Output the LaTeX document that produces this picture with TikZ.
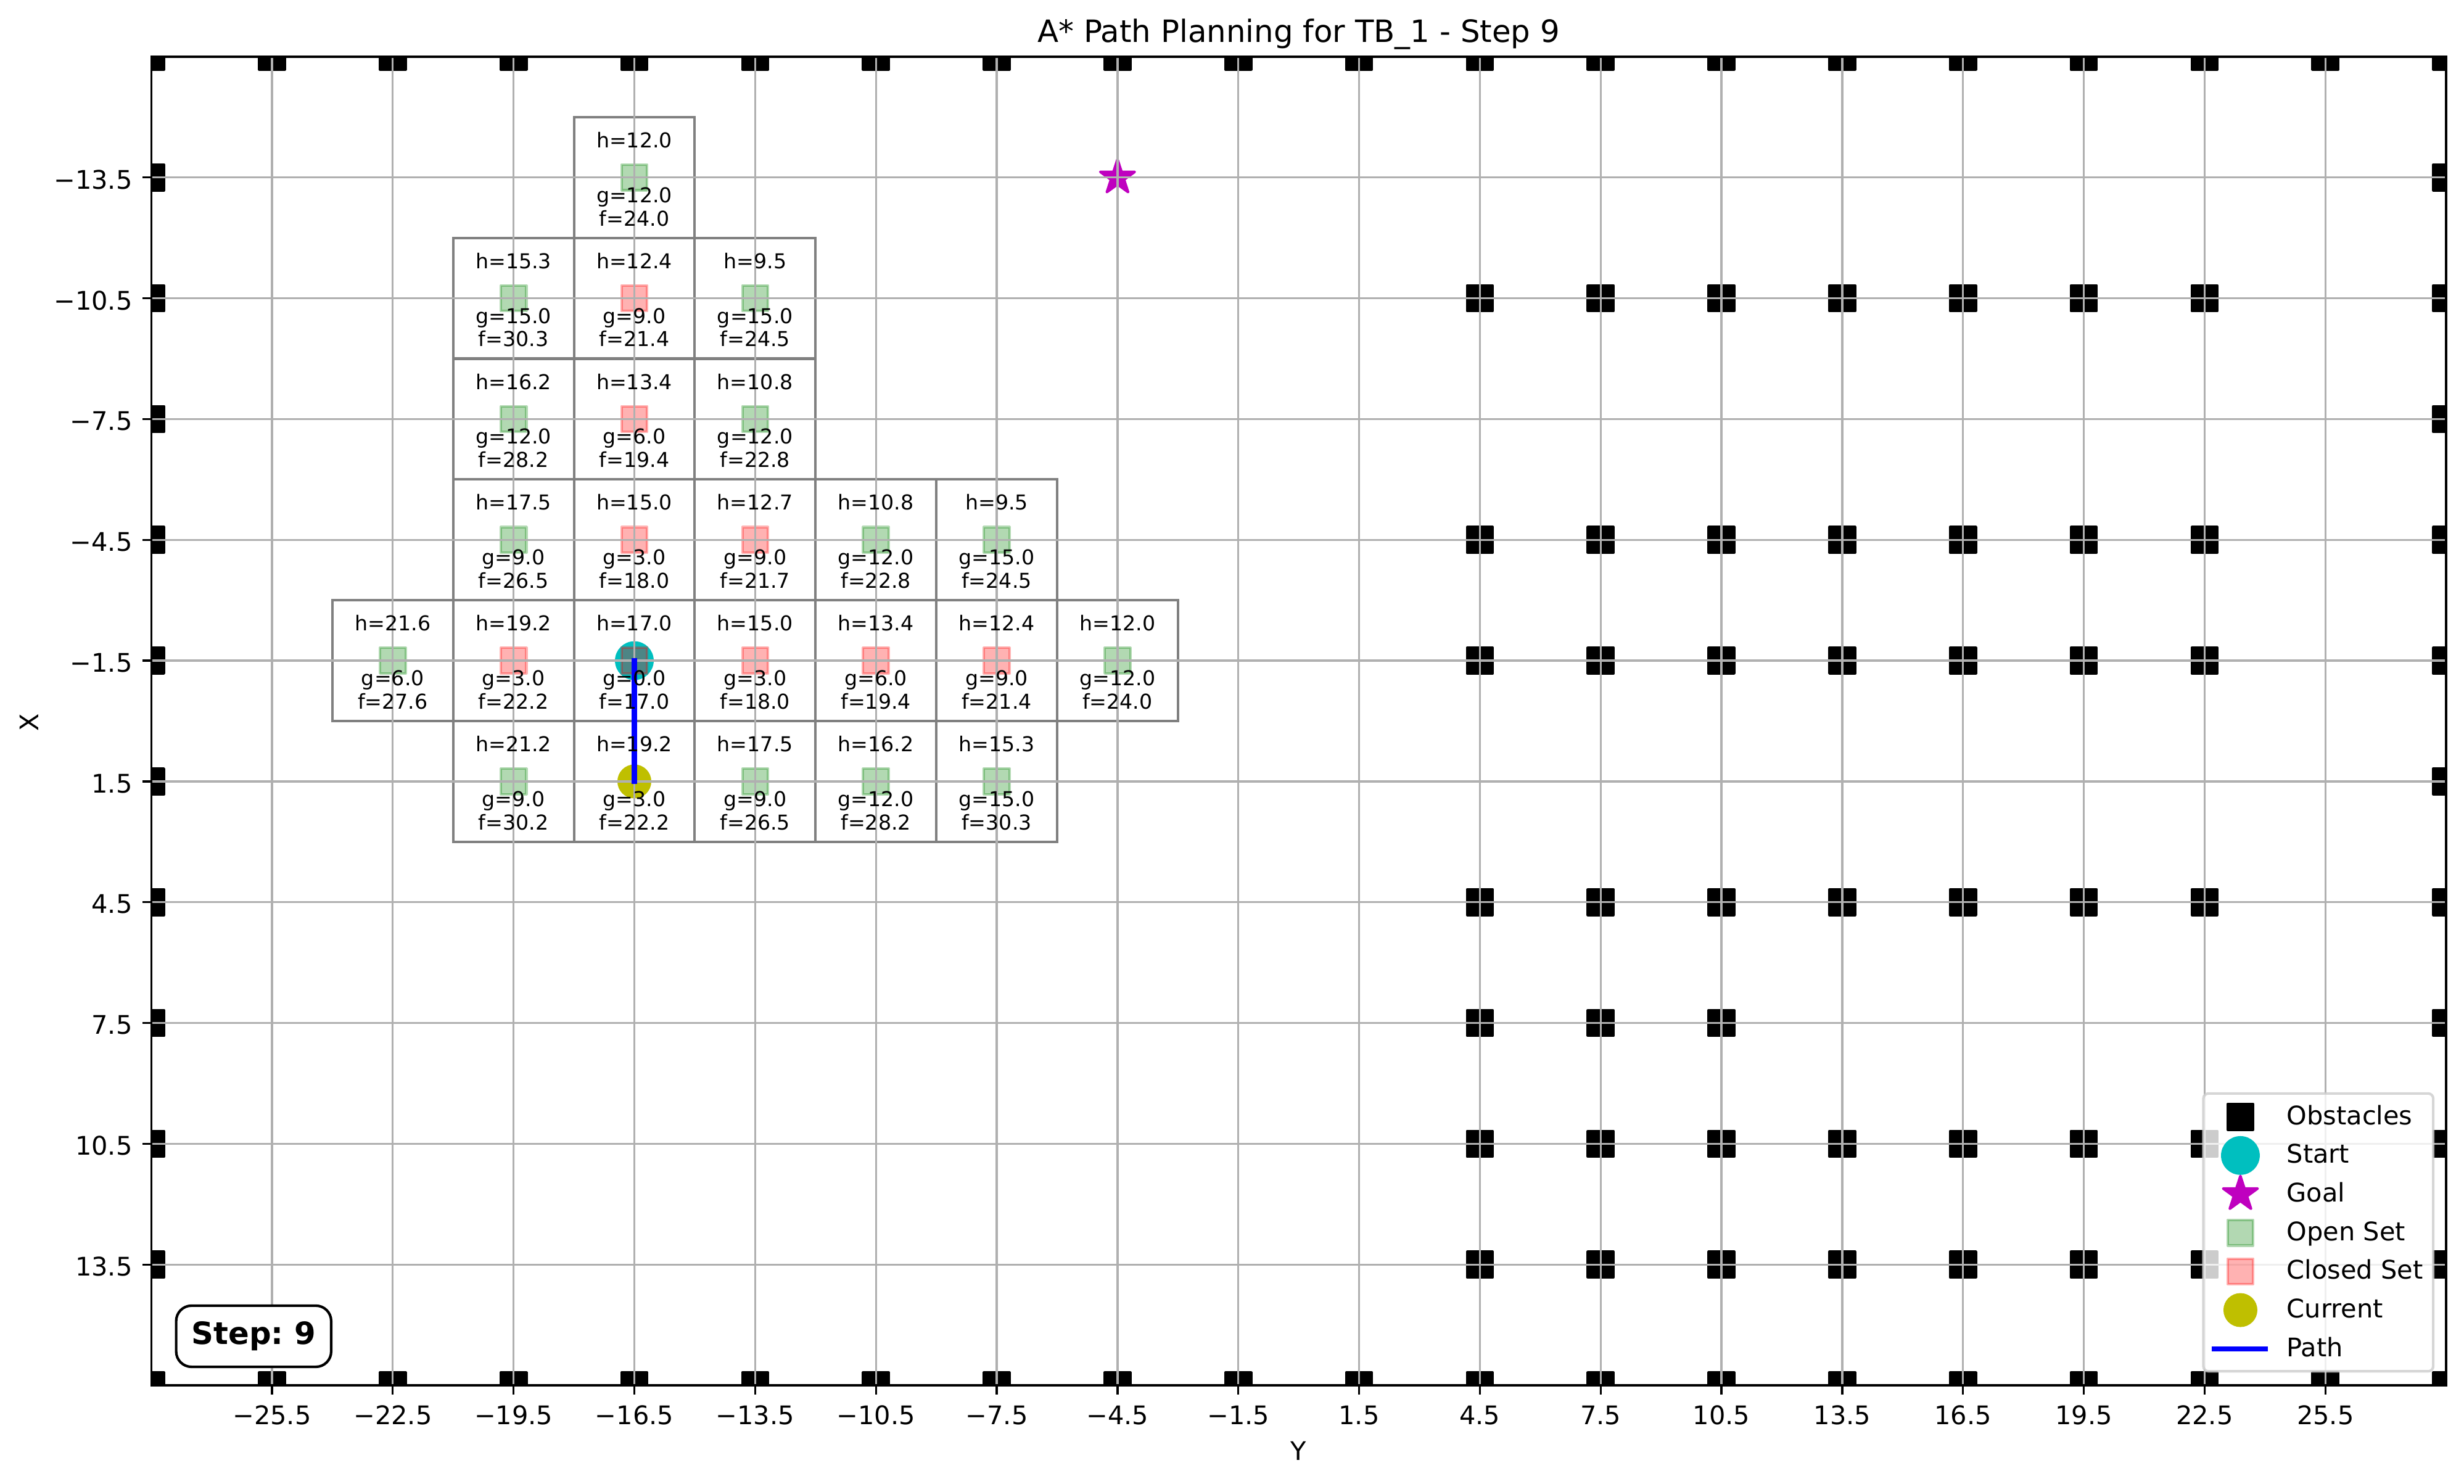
\documentclass[tikz,border=0pt]{standalone}
\usepackage{fontspec}
\setmainfont{DejaVu Sans}
\frenchspacing
\usetikzlibrary{shapes.geometric}
\definecolor{gridc}{HTML}{B0B0B0}
\definecolor{startc}{rgb}{0,0.75,0.75}
\definecolor{goalc}{rgb}{0.75,0,0.75}
\definecolor{curc}{rgb}{0.75,0.75,0}
\definecolor{openc}{rgb}{0,0.5,0}
\definecolor{closedc}{rgb}{1,0,0}
\definecolor{boxc}{HTML}{808080}
\definecolor{legc}{HTML}{CCCCCC}
\definecolor{pathc}{rgb}{0,0,1}
\tikzset{
 obst/.style={rectangle, inner sep=0pt, minimum size=10pt, fill=black, draw=black, line width=1pt, line join=round},
 openm/.style={rectangle, inner sep=0pt, minimum size=10pt, fill=openc, draw=openc, fill opacity=0.3, draw opacity=0.3, line width=1pt, line join=round},
 closedm/.style={rectangle, inner sep=0pt, minimum size=10pt, fill=closedc, draw=closedc, fill opacity=0.3, draw opacity=0.3, line width=1pt, line join=round},
 startm/.style={circle, inner sep=0pt, minimum size=14.14pt, fill=startc, draw=startc, line width=1pt},
 curm/.style={circle, inner sep=0pt, minimum size=12.25pt, fill=curc, draw=curc, line width=1pt},
 goalm/.style={star, star points=5, star point ratio=2.618, inner sep=0pt, minimum size=14.14pt, fill=goalc, draw=goalc, line width=1pt, line join=round},
 gridl/.style={draw=gridc, line width=0.8pt},
 cellbox/.style={draw=boxc, line width=1pt},
 celltxt/.style={inner sep=0pt, anchor=base, font=\fontsize{8}{9.6}\selectfont},
 ticklab/.style={inner sep=0pt, font=\fontsize{10}{12}\selectfont},
 legtxt/.style={inner sep=0pt, anchor=base west, font=\fontsize{10}{12}\selectfont},
 pathl/.style={draw=pathc, line width=2pt, line cap=rect},
 tickl/.style={draw=black, line width=0.8pt},
}
\def\celllist{c1/-16.5/-13.5/12.0/12.0/24.0, c2/-19.5/-10.5/15.3/15.0/30.3, c3/-16.5/-10.5/12.4/9.0/21.4, c4/-13.5/-10.5/9.5/15.0/24.5, c5/-19.5/-7.5/16.2/12.0/28.2, c6/-16.5/-7.5/13.4/6.0/19.4, c7/-13.5/-7.5/10.8/12.0/22.8, c8/-19.5/-4.5/17.5/9.0/26.5, c9/-16.5/-4.5/15.0/3.0/18.0, c10/-13.5/-4.5/12.7/9.0/21.7, c11/-10.5/-4.5/10.8/12.0/22.8, c12/-7.5/-4.5/9.5/15.0/24.5, c13/-22.5/-1.5/21.6/6.0/27.6, c14/-19.5/-1.5/19.2/3.0/22.2, c15/-16.5/-1.5/17.0/0.0/17.0, c16/-13.5/-1.5/15.0/3.0/18.0, c17/-10.5/-1.5/13.4/6.0/19.4, c18/-7.5/-1.5/12.4/9.0/21.4, c19/-4.5/-1.5/12.0/12.0/24.0, c20/-19.5/1.5/21.2/9.0/30.2, c21/-16.5/1.5/19.2/3.0/22.2, c22/-13.5/1.5/17.5/9.0/26.5, c23/-10.5/1.5/16.2/12.0/28.2, c24/-7.5/1.5/15.3/15.0/30.3}
\begin{document}
\begin{tikzpicture}[x=0.5527cm, y=-0.5527cm]
\useasboundingbox (-32.256,-17.908) rectangle (28.944,18.942);
% cell boxes
\foreach \n/\cx/\cy/\h/\g/\f in \celllist {
  \draw[cellbox] (\cx-1.5,\cy-1.5) rectangle (\cx+1.5,\cy+1.5);
}
% markers (clipped to axes)
\begin{scope}
\clip (-28.5,-16.5) rectangle (28.5,16.5);
\foreach \x [count=\i] in {-28.5,-25.5,-22.5,-19.5,-16.5,-13.5,-10.5,-7.5,-4.5,-1.5,1.5,4.5,7.5,10.5,13.5,16.5,19.5,22.5,25.5,28.5} {
  \node[obst] (obT\i) at (\x,-16.5) {};
  \node[obst] (obB\i) at (\x,16.5) {};
}
\foreach \y [count=\i] in {-13.5,-10.5,-7.5,-4.5,-1.5,1.5,4.5,7.5,10.5,13.5} {
  \node[obst] (obL\i) at (-28.5,\y) {};
  \node[obst] (obR\i) at (28.5,\y) {};
}
\foreach \y [count=\j] in {-10.5,-4.5,-1.5,4.5,10.5,13.5} {
  \foreach \x [count=\i] in {4.5,7.5,10.5,13.5,16.5,19.5,22.5} {
    \node[obst] (obI\j-\i) at (\x,\y) {};
  }
}
\foreach \x [count=\i] in {4.5,7.5,10.5} {
  \node[obst] (obS\i) at (\x,7.5) {};
}
\node[startm] (start) at (-16.5,-1.5) {};
\node[goalm] (goal) at (-4.5,-13.5) {};
\foreach \x/\y [count=\i] in {-16.5/-13.5, -19.5/-10.5, -13.5/-10.5, -19.5/-7.5, -13.5/-7.5, -19.5/-4.5, -10.5/-4.5, -7.5/-4.5, -22.5/-1.5, -4.5/-1.5, -19.5/1.5, -13.5/1.5, -10.5/1.5, -7.5/1.5} {
  \node[openm] (op\i) at (\x,\y) {};
}
\foreach \x/\y [count=\i] in {-16.5/-10.5, -16.5/-7.5, -16.5/-4.5, -13.5/-4.5, -19.5/-1.5, -16.5/-1.5, -13.5/-1.5, -10.5/-1.5, -7.5/-1.5} {
  \node[closedm] (cl\i) at (\x,\y) {};
}
\node[curm] (cur) at (-16.5,1.5) {};
\end{scope}
% grid
\foreach \x in {-25.5,-22.5,-19.5,-16.5,-13.5,-10.5,-7.5,-4.5,-1.5,1.5,4.5,7.5,10.5,13.5,16.5,19.5,22.5,25.5} {
  \draw[gridl] (\x,-16.5) -- (\x,16.5);
}
\foreach \y in {-13.5,-10.5,-7.5,-4.5,-1.5,1.5,4.5,7.5,10.5,13.5} {
  \draw[gridl] (-28.5,\y) -- (28.5,\y);
}
% spines and ticks
\draw[line width=0.8pt] (-28.5,-16.5) rectangle (28.5,16.5);
\foreach \x/\t [count=\i] in {-25.5/−25.5,-22.5/−22.5,-19.5/−19.5,-16.5/−16.5,-13.5/−13.5,-10.5/−10.5,-7.5/−7.5,-4.5/−4.5,-1.5/−1.5,1.5/1.5,4.5/4.5,7.5/7.5,10.5/10.5,13.5/13.5,16.5/16.5,19.5/19.5,22.5/22.5,25.5/25.5} {
  \draw[tickl] (\x,16.5) -- ++(0pt,-3.5pt);
  \node[ticklab, anchor=north, yshift=-7.7pt] (xt\i) at (\x,16.5) {\t};
}
\foreach \y/\t [count=\i] in {-13.5/−13.5,-10.5/−10.5,-7.5/−7.5,-4.5/−4.5,-1.5/−1.5,1.5/1.5,4.5/4.5,7.5/7.5,10.5/10.5,13.5/13.5} {
  \draw[tickl] (-28.5,\y) -- ++(-3.5pt,0pt);
  \node[ticklab, anchor=east, xshift=-7.2pt, yshift=-0.8pt] (yt\i) at (-28.5,\y) {\t};
}
% path
\draw[pathl] (start.center) -- (cur.center);
% cell texts
\foreach \n/\cx/\cy/\h/\g/\f in \celllist {
  \node[celltxt] (\n h) at (\cx,\cy-0.74) {h=\h};
  \node[celltxt] (\n g) at (\cx,\cy+0.62) {g=\g};
  \node[celltxt] (\n f) at (\cx,\cy+1.20) {f=\f};
}
% labels
\node[inner sep=0pt, anchor=base, yshift=5.7pt, font=\fontsize{12}{14.4}\selectfont] (title) at (0,-16.5) {A* Path Planning for TB\_1 - Step 9};
\node[ticklab] (ylab) at (0,18.13) {Y};
\node[ticklab, rotate=90] (xlab) at (-31.53,0.04) {X};
% step box
\node[draw=black, fill=white, line width=1pt, rounded corners=6pt, minimum width=2.128cm, minimum height=0.840cm, inner sep=0pt, font=\fontsize{12}{14.4}\selectfont\bfseries] (step) at (-25.955,15.28) {Step: 9};
% legend
\draw[draw=legc, draw opacity=0.8, fill=white, fill opacity=0.8, line width=1pt, rounded corners=2pt] (22.47,9.25) rectangle (28.18,16.15);
\node[obst] (lg1) at (23.39,9.83) {};
\node[startm] (lg2) at (23.39,10.79) {};
\node[goalm] (lg3) at (23.39,11.75) {};
\node[openm] (lg4) at (23.39,12.71) {};
\node[closedm] (lg5) at (23.39,13.67) {};
\node[curm] (lg6) at (23.39,14.63) {};
\coordinate (lg7a) at (22.74,15.59);
\coordinate (lg7b) at (24.01,15.59);
\draw[pathl] (lg7a) -- (lg7b);
\node[legtxt] (lt1) at (24.53,10.02) {Obstacles};
\node[legtxt] (lt2) at (24.53,10.98) {Start};
\node[legtxt] (lt3) at (24.53,11.94) {Goal};
\node[legtxt] (lt4) at (24.53,12.90) {Open Set};
\node[legtxt] (lt5) at (24.53,13.86) {Closed Set};
\node[legtxt] (lt6) at (24.53,14.82) {Current};
\node[legtxt] (lt7) at (24.53,15.78) {Path};
\end{tikzpicture}
\end{document}
